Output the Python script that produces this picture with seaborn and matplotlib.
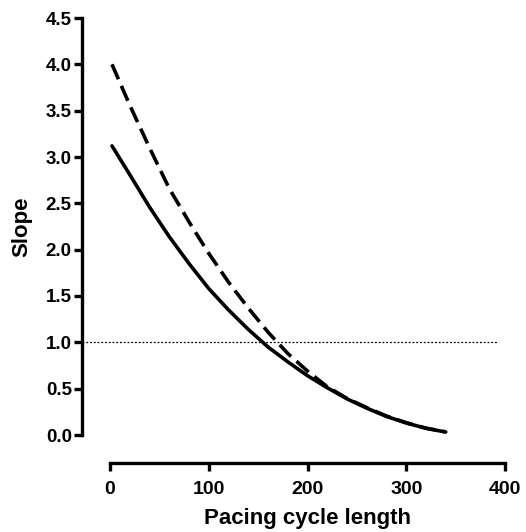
import numpy as np
import pandas as pd
import matplotlib
matplotlib.use("Agg")
import matplotlib.pyplot as plt
import seaborn as sns

# Data
cycle_length = [2, 20, 40, 60, 80, 100, 120, 140, 160, 180, 200, 220, 240, 260, 280, 300, 320, 340]
slope_solid = [3.12, 2.81, 2.46, 2.14, 1.85, 1.58, 1.35, 1.14, 0.95, 0.79, 0.64, 0.51, 0.39, 0.29, 0.20, 0.13, 0.072, 0.032]
slope_dashed = [4.00, 3.56, 3.10, 2.66, 2.30, 1.96, 1.65, 1.37, 1.11, 0.88, 0.69, 0.52, 0.395, 0.295, 0.205, 0.132, 0.074, 0.034]
threshold = 1.0
x_ticks = [0, 100, 200, 300, 400]
y_ticks = [0.0, 0.5, 1.0, 1.5, 2.0, 2.5, 3.0, 3.5, 4.0, 4.5]

df = pd.DataFrame({
    "Pacing cycle length": cycle_length * 2,
    "Slope": slope_solid + slope_dashed,
    "series": ["solid"] * len(cycle_length) + ["dashed"] * len(cycle_length),
})

sns.set_theme(style="ticks")
plt.rcParams["font.family"] = ["Liberation Sans", "DejaVu Sans"]
plt.rcParams["font.weight"] = "bold"
plt.rcParams["text.color"] = "black"
plt.rcParams["axes.labelcolor"] = "black"

W, H = 526, 532
fig = plt.figure(figsize=(W / 100, H / 100), dpi=100)
x0, x1 = 110, 505
y0, y1 = 435, 18
ax = fig.add_axes([x0 / W, 1 - y0 / H, (x1 - x0) / W, (y0 - y1) / H])

sns.lineplot(data=df, x="Pacing cycle length", y="Slope", hue="series", style="series",
             palette={"solid": "black", "dashed": "black"},
             dashes={"solid": "", "dashed": (4.5, 2.0)},
             linewidth=2.6, legend=False, ax=ax)
for ln in ax.get_lines():
    ln.set_solid_capstyle("round")
    ln.set_dash_capstyle("butt")

ax.axhline(threshold, xmin=-28 / (x1 - x0), xmax=(497 - x0) / (x1 - x0),
           color="black", lw=0.9, linestyle=(0, (1.5, 1.5)), clip_on=False, zorder=1)

ax.set_xlim(0, 400)
ax.set_ylim(0, 4.5)
ax.set_xticks(x_ticks)
ax.set_yticks(y_ticks)
ax.set_yticklabels([f"{v:.1f}" for v in y_ticks])
ax.set_xticklabels([str(v) for v in x_ticks])

sns.despine(ax=ax, offset=20)
for s in ["left", "bottom"]:
    ax.spines[s].set_linewidth(2.4)
    ax.spines[s].set_color("black")
ax.tick_params(axis="both", width=2.4, length=6, color="black", labelcolor="black")
ax.tick_params(axis="y", labelsize=13.5, pad=1.5)
ax.tick_params(axis="x", labelsize=14, pad=7)
for lab in ax.get_xticklabels() + ax.get_yticklabels():
    lab.set_fontweight("bold")

ax.set_xlabel("Pacing cycle length", fontsize=16, fontweight="bold", labelpad=7, color="black")
ax.set_ylabel("Slope", fontsize=16, fontweight="bold", labelpad=10, color="black")
ax.set_facecolor("white")
fig.patch.set_facecolor("white")

fig.savefig("out.png", dpi=100, facecolor="white")
